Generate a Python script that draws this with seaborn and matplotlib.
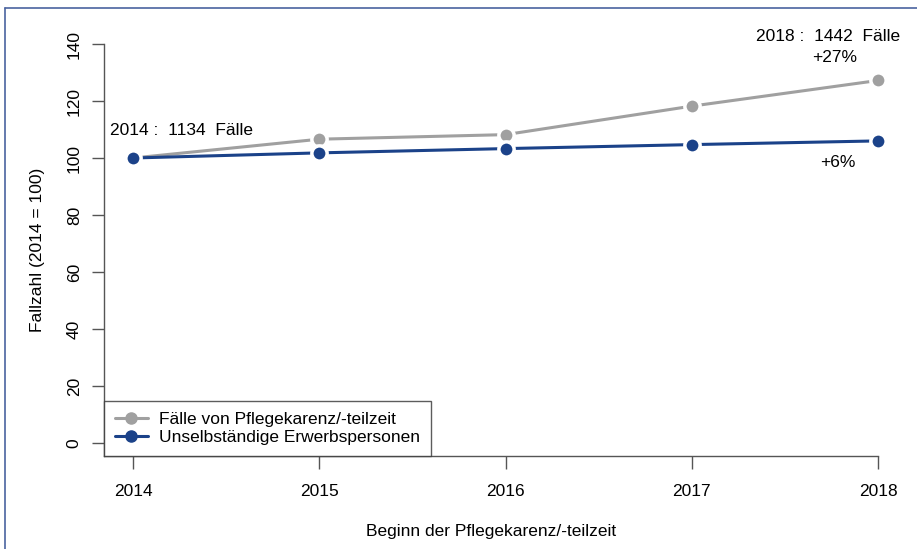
import pandas as pd
import matplotlib.pyplot as plt
import seaborn as sns
from matplotlib.lines import Line2D

# data (index 2014 = 100)
years = [2014, 2015, 2016, 2017, 2018]
faelle = [100, 106.6, 108.2, 118.2, 127.2]
erwerb = [100, 101.8, 103.3, 104.7, 106.0]
series_names = ["Fälle von Pflegekarenz/-teilzeit", "Unselbständige Erwerbspersonen"]
series_colors = ["#a0a0a0", "#1b4289"]
y_ticks = [0, 20, 40, 60, 80, 100, 120, 140]

df = pd.DataFrame({
    "Jahr": years * 2,
    "Wert": faelle + erwerb,
    "Reihe": [series_names[0]] * len(years) + [series_names[1]] * len(years),
})

sns.set_style("white")
plt.rcParams["font.family"] = ["Liberation Sans", "DejaVu Sans"]
plt.rcParams["text.color"] = "black"
plt.rcParams["axes.labelcolor"] = "black"

FS = 12.5

fig = plt.figure(figsize=(9.17, 5.49), dpi=100)
ax = fig.add_axes([104 / 917, 1 - 456 / 549, (878 - 104) / 917, (456 - 44) / 549])

sns.lineplot(data=df, x="Jahr", y="Wert", hue="Reihe", palette=series_colors,
             marker="o", markersize=11, markeredgecolor="white", markeredgewidth=2.5,
             linewidth=2.2, ax=ax, legend=False)
for ln in ax.lines:
    ln.set_clip_on(False)

ax.set_xlim(2013.844, 2018)
ax.set_ylim(-4.56, 140)
ax.set_xticks(years)
ax.set_yticks(y_ticks)
ax.set_yticklabels([str(t) for t in y_ticks], rotation=90, va="center")

for s in ["top", "right"]:
    ax.spines[s].set_visible(False)
for s in ["left", "bottom"]:
    ax.spines[s].set_color("#555555")
    ax.spines[s].set_linewidth(1)
ax.tick_params(axis="both", bottom=True, left=True, colors="#555555", labelcolor="black",
               labelsize=FS, length=9, width=1, direction="out")
ax.tick_params(axis="x", pad=11)
ax.tick_params(axis="y", pad=7)
ax.grid(False)

ax.set_xlabel("Beginn der Pflegekarenz/-teilzeit", fontsize=FS, labelpad=18)
ax.set_ylabel("Fallzahl (2014 = 100)", fontsize=FS, labelpad=16)

# annotations
ax.annotate("2014 :  1134  Fälle", (years[0], faelle[0]), xytext=(48, 28),
            textcoords="offset pixels", ha="center", va="center", fontsize=FS)
ax.annotate("2018 :  1442  Fälle", (years[-1], faelle[-1]), xytext=(-50, 44),
            textcoords="offset pixels", ha="center", va="center", fontsize=FS,
            annotation_clip=False)
ax.annotate("+27%", (years[-1], faelle[-1]), xytext=(-43, 23),
            textcoords="offset pixels", ha="center", va="center", fontsize=FS,
            annotation_clip=False)
ax.annotate("+6%", (years[-1], erwerb[-1]), xytext=(-40, -22),
            textcoords="offset pixels", ha="center", va="center", fontsize=FS)

handles = [Line2D([0], [0], color=c, linewidth=2.2, marker="o", markersize=8,
                  markeredgecolor=c) for c in series_colors]
leg = ax.legend(handles, series_names, loc="lower left", borderaxespad=0,
                fontsize=FS, frameon=True, fancybox=False, handlelength=1.9,
                labelspacing=0.2, borderpad=0.62, handletextpad=0.65)
leg.get_frame().set_edgecolor("#333333")
leg.get_frame().set_linewidth(1)

# partial frame around the figure (top and left edges)
fig.add_artist(Line2D([5 / 917, 1], [1 - 8 / 549, 1 - 8 / 549], color="#4a64a0", linewidth=1.2))
fig.add_artist(Line2D([5 / 917, 5 / 917], [0, 1 - 8 / 549], color="#4a64a0", linewidth=1.2))

fig.savefig("out.png", dpi=100)
